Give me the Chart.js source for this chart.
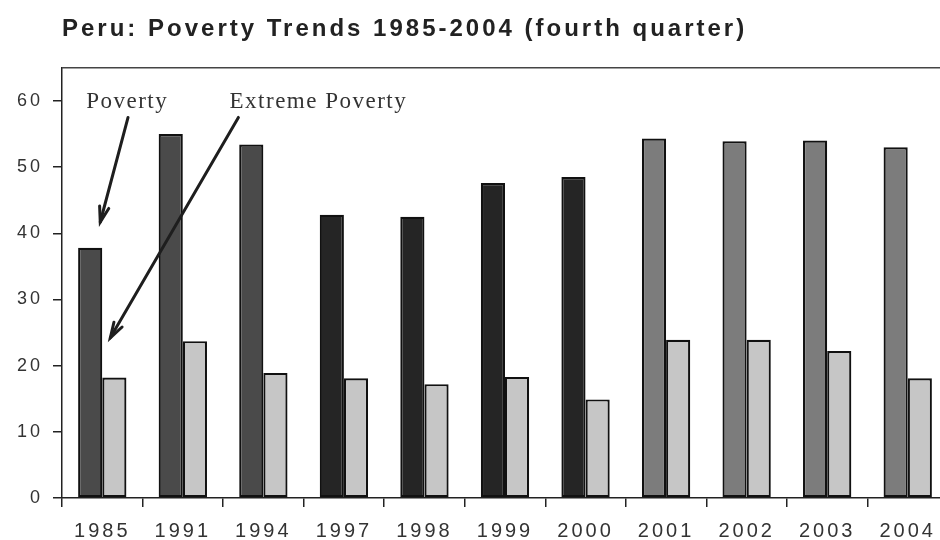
<!DOCTYPE html>
<html>
<head>
<meta charset="utf-8">
<script src="https://cdn.jsdelivr.net/npm/chart.js@4"></script>
<style>
  html, body { margin: 0; padding: 0; background: #fff; overflow: hidden; }
  #wrap { width: 948px; height: 540px; }
</style>
</head>
<body>
<div id="wrap"><canvas id="c" width="948" height="540"></canvas></div>
<script>
// ---- data ----
const years = ['1985','1991','1994','1997','1998','1999','2000','2001','2002','2003','2004'];
const poverty = [37.8, 55.0, 53.4, 42.8, 42.5, 47.6, 48.5, 54.3, 53.9, 54.0, 53.0];
const extremePoverty = [18.2, 23.7, 18.9, 18.1, 17.2, 18.3, 14.9, 23.9, 23.9, 22.2, 18.1];
const yTicks = [0, 10, 20, 30, 40, 50, 60];
const titleText = 'Peru: Poverty Trends 1985-2004 (fourth quarter)';
const labelPoverty = 'Poverty';
const labelExtreme = 'Extreme Poverty';

// ---- styles ----
const povertyColors = ['#4a4a4a','#4a4a4a','#4a4a4a','#252525','#252525','#252525','#252525','#7c7c7c','#7c7c7c','#7c7c7c','#7c7c7c'];
const extremeColor = '#c6c6c6';

const spacingPlugin = {
  id: 'spacing',
  beforeDraw(chart) { chart.ctx.letterSpacing = '3px'; },
  afterDraw(chart) { chart.ctx.letterSpacing = '0px'; }
};

const framePlugin = {
  id: 'frame',
  afterDraw(chart) {
    const { ctx, chartArea: a } = chart;
    ctx.save();
    ctx.strokeStyle = '#444';
    ctx.lineWidth = 1.5;
    ctx.beginPath();
    ctx.moveTo(a.left, a.top);
    ctx.lineTo(a.right, a.top);
    ctx.lineTo(a.right, a.bottom);
    ctx.stroke();
    ctx.restore();
  }
};

function arrow(ctx, x1, y1, x2, y2) {
  ctx.beginPath();
  ctx.moveTo(x1, y1);
  ctx.lineTo(x2, y2);
  ctx.stroke();
  const ang = Math.atan2(y2 - y1, x2 - x1);
  const len = 16, spread = 0.3;
  ctx.beginPath();
  ctx.moveTo(x2 - len * Math.cos(ang - spread), y2 - len * Math.sin(ang - spread));
  ctx.lineTo(x2, y2);
  ctx.lineTo(x2 - len * Math.cos(ang + spread), y2 - len * Math.sin(ang + spread));
  ctx.stroke();
}

const annotPlugin = {
  id: 'annot',
  afterDatasetsDraw(chart) {
    const { ctx } = chart;
    const xs = chart.scales.x, ys = chart.scales.y;
    const c0 = xs.getPixelForValue(0);
    const cw = xs.getPixelForValue(1) - c0;
    ctx.save();
    ctx.letterSpacing = '1.5px';
    ctx.font = '23px "Liberation Serif", "DejaVu Serif", serif';
    ctx.fillStyle = '#333';
    ctx.textBaseline = 'alphabetic';
    ctx.textAlign = 'left';
    const ty = ys.getPixelForValue(58.9);
    ctx.fillText(labelPoverty, c0 - 0.2 * cw, ty);
    ctx.fillText(labelExtreme, c0 + 1.58 * cw, ty);
    ctx.strokeStyle = '#1e1e1e';
    ctx.lineWidth = 3;
    ctx.lineCap = 'round';
    ctx.lineJoin = 'miter';
    arrow(ctx, c0 + 0.32 * cw, ys.getPixelForValue(57.5), c0 - 0.025 * cw, ys.getPixelForValue(41.7));
    arrow(ctx, c0 + 1.69 * cw, ys.getPixelForValue(57.5), c0 + 0.1 * cw, ys.getPixelForValue(24.2));
    ctx.restore();
  }
};

new Chart(document.getElementById('c'), {
  type: 'bar',
  data: {
    labels: years,
    datasets: [
      { label: labelPoverty, data: poverty, backgroundColor: povertyColors, borderColor: '#111', borderWidth: 2.2, borderSkipped: false },
      { label: labelExtreme, data: extremePoverty, backgroundColor: extremeColor, borderColor: '#111', borderWidth: 2.2, borderSkipped: false }
    ]
  },
  options: {
    responsive: false,
    animation: false,
    layout: { padding: { left: 0, right: 0, top: 0, bottom: 0 } },
    datasets: { bar: { categoryPercentage: 0.6, barPercentage: 1.0 } },
    plugins: {
      legend: { display: false },
      tooltip: { enabled: false },
      title: {
        display: true,
        fullSize: false,
        text: titleText,
        align: 'start',
        color: '#222',
        font: { family: '"Liberation Sans", Arial, sans-serif', size: 24, weight: 'bold' },
        padding: { top: 15, bottom: 24 }
      }
    },
    scales: {
      x: {
        offset: true,
        grid: { display: true, offset: true, drawOnChartArea: false, drawTicks: true, tickLength: 9, color: '#222', lineWidth: 1.5 },
        border: { display: true, color: '#222', width: 1.5 },
        ticks: { color: '#333', padding: 12, maxRotation: 0, font: { family: '"Liberation Sans", Arial, sans-serif', size: 20 } },
        afterFit(scale) { scale.height = 42; }
      },
      y: {
        min: 0,
        max: 65,
        grid: { display: true, drawOnChartArea: false, drawTicks: true, tickLength: 9, color: '#222', lineWidth: 1.5 },
        border: { display: true, color: '#222', width: 1.5 },
        ticks: { stepSize: 10, color: '#333', padding: 10, font: { family: '"Liberation Sans", Arial, sans-serif', size: 18 } },
        afterBuildTicks(scale) { scale.ticks = yTicks.map(v => ({ value: v })); },
        afterFit(scale) { scale.width = 62; }
      }
    }
  },
  plugins: [spacingPlugin, framePlugin, annotPlugin]
});
</script>
</body>
</html>
